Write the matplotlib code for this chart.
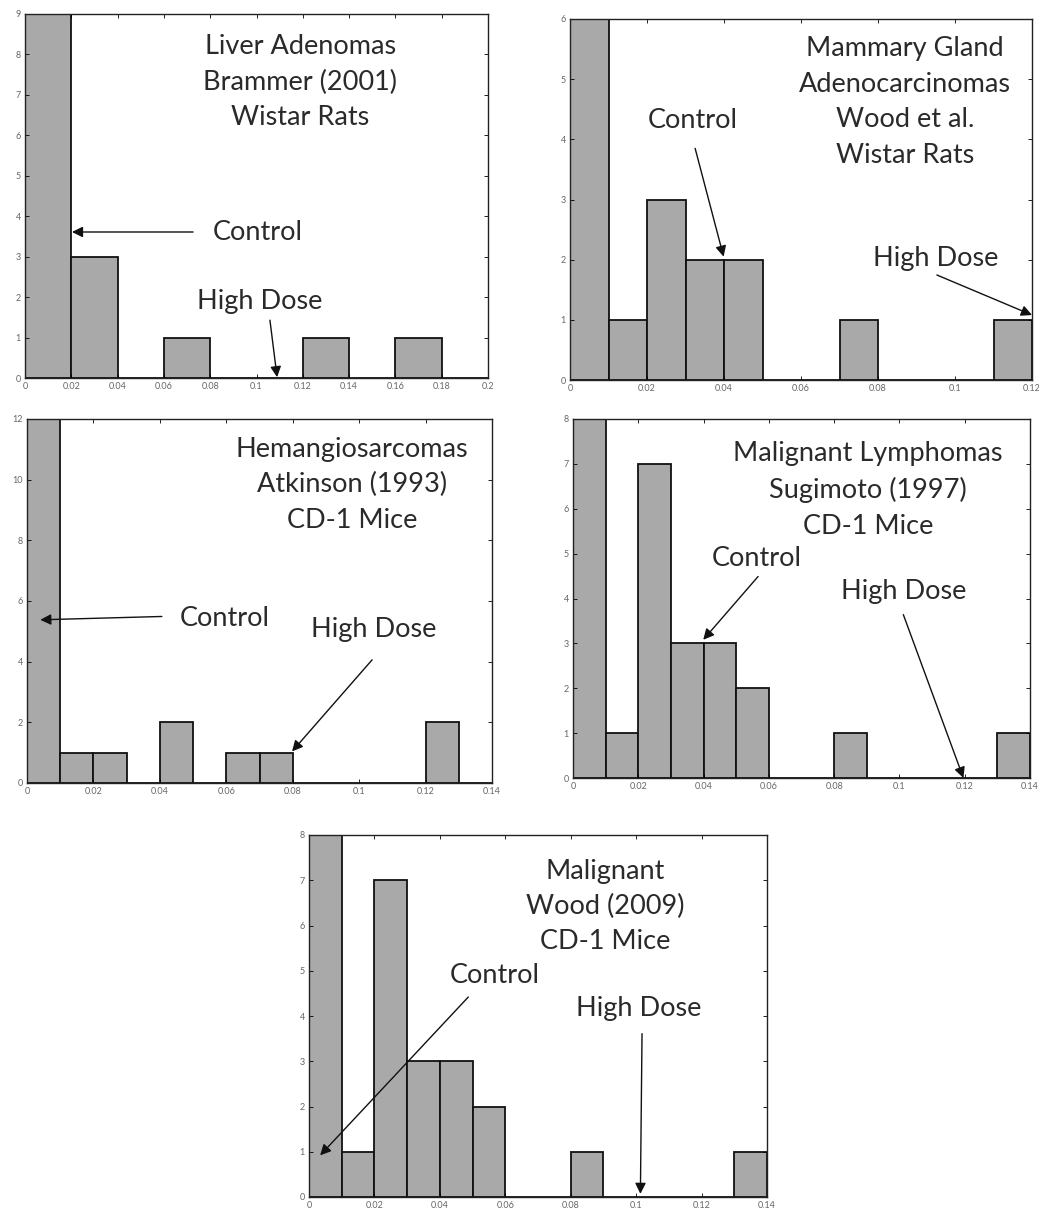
import numpy as np
import matplotlib
matplotlib.use("Agg")
import matplotlib.pyplot as plt

# histogram counts per bin (bin width, counts), one set per study
liver_width = 0.02
liver_counts = [9, 3, 0, 1, 0, 0, 1, 0, 1, 0]

mammary_width = 0.01
mammary_counts = [6, 1, 3, 2, 2, 0, 0, 1, 0, 0, 0, 1]

hemangio_width = 0.01
hemangio_counts = [12, 1, 1, 0, 2, 0, 1, 1, 0, 0, 0, 0, 2, 0]

lymph_width = 0.01
lymph_counts = [8, 1, 7, 3, 3, 2, 0, 0, 1, 0, 0, 0, 0, 1]

wood_width = 0.01
wood_counts = [8, 1, 7, 3, 3, 2, 0, 0, 1, 0, 0, 0, 0, 1]

titles = [
    "Liver Adenomas\nBrammer (2001)\nWistar Rats",
    "Mammary Gland\nAdenocarcinomas\nWood et al.\nWistar Rats",
    "Hemangiosarcomas\nAtkinson (1993)\nCD-1 Mice",
    "Malignant Lymphomas\nSugimoto (1997)\nCD-1 Mice",
    "Malignant\nWood (2009)\nCD-1 Mice",
]

plt.rcParams['font.family'] = ['Lato', 'DejaVu Sans']

W, H = 1039, 1211
fig = plt.figure(figsize=(W / 100, H / 100), dpi=100)


def panel(px_left, px_right, px_top, px_bottom):
    return fig.add_axes([px_left / W, 1 - px_bottom / H,
                         (px_right - px_left) / W, (px_bottom - px_top) / H])


def draw_hist(ax, width, counts, xmax, xticks, ymax, yticks):
    edges = np.arange(len(counts)) * width
    ax.bar(edges, counts, width=width, align='edge', color='#a9a9a9',
           edgecolor='#111111', linewidth=1.3)
    ax.set_xlim(0, xmax)
    ax.set_ylim(0, ymax)
    ax.set_xticks(xticks)
    ax.set_yticks(yticks)
    ax.set_xticklabels([f"{t:g}" for t in xticks])
    ax.tick_params(direction='in', top=True, right=True, length=3,
                   width=0.6, labelsize=6.5, labelcolor='#666666', pad=3)
    for s in ax.spines.values():
        s.set_linewidth(1.0)
        s.set_color('#222222')


def arrow(ax, tail, head):
    ax.annotate("", xy=head, xytext=tail,
                arrowprops=dict(arrowstyle='-|>', color='#111111', lw=1.0,
                                mutation_scale=16, shrinkA=0, shrinkB=0))


txt = dict(fontsize=19.5, color='#2a2a2a', ha='center', va='center',
           linespacing=1.52)

# Liver adenomas
ax1 = panel(25, 488, 14, 378)
draw_hist(ax1, liver_width, liver_counts, 0.2, np.arange(0, 0.201, 0.02),
          9, range(0, 10))
ax1.text(0.119, 7.32, titles[0], **txt)
ax1.text(0.081, 3.6, "Control", **{**txt, 'ha': 'left'})
arrow(ax1, (0.0726, 3.61), (0.0203, 3.61))
ax1.text(0.1015, 1.88, "High Dose", **txt)
arrow(ax1, (0.1058, 1.43), (0.1089, 0.02))

# Mammary gland adenocarcinomas
ax2 = panel(570, 1032, 19, 380)
draw_hist(ax2, mammary_width, mammary_counts, 0.12,
          np.arange(0, 0.121, 0.02), 6, range(0, 7))
ax2.text(0.087, 4.62, titles[1], **txt)
ax2.text(0.032, 4.32, "Control", **txt)
arrow(ax2, (0.0325, 3.85), (0.0399, 2.05))
ax2.text(0.0949, 2.02, "High Dose", **txt)
arrow(ax2, (0.0953, 1.745), (0.12, 1.08))

# Hemangiosarcomas
ax3 = panel(27, 492, 419, 783)
draw_hist(ax3, hemangio_width, hemangio_counts, 0.14,
          np.arange(0, 0.141, 0.02), 12, range(0, 13, 2))
ax3.text(0.0979, 9.83, titles[2], **txt)
ax3.text(0.0594, 5.43, "Control", **txt)
arrow(ax3, (0.0406, 5.49), (0.004, 5.38))
ax3.text(0.1044, 5.05, "High Dose", **txt)
arrow(ax3, (0.1039, 4.06), (0.0798, 1.04))

# Malignant lymphomas
ax4 = panel(573, 1030, 419, 778)
draw_hist(ax4, lymph_width, lymph_counts, 0.14,
          np.arange(0, 0.141, 0.02), 8, range(0, 9))
ax4.text(0.0904, 6.42, titles[3], **txt)
ax4.text(0.0564, 4.90, "Control", **txt)
arrow(ax4, (0.0567, 4.49), (0.0399, 3.08))
ax4.text(0.1012, 4.16, "High Dose", **txt)
arrow(ax4, (0.1012, 3.64), (0.1196, 0.0))

# Malignant, Wood (2009)
ax5 = panel(309, 767, 835, 1197)
draw_hist(ax5, wood_width, wood_counts, 0.14,
          np.arange(0, 0.141, 0.02), 8, range(0, 9))
ax5.text(0.0905, 6.42, titles[4], **txt)
ax5.text(0.0569, 4.90, "Control", **txt)
arrow(ax5, (0.0487, 4.42), (0.0034, 0.92))
ax5.text(0.1007, 4.17, "High Dose", **txt)
arrow(ax5, (0.1018, 3.61), (0.1013, 0.07))

fig.savefig("out.png", dpi=100)
